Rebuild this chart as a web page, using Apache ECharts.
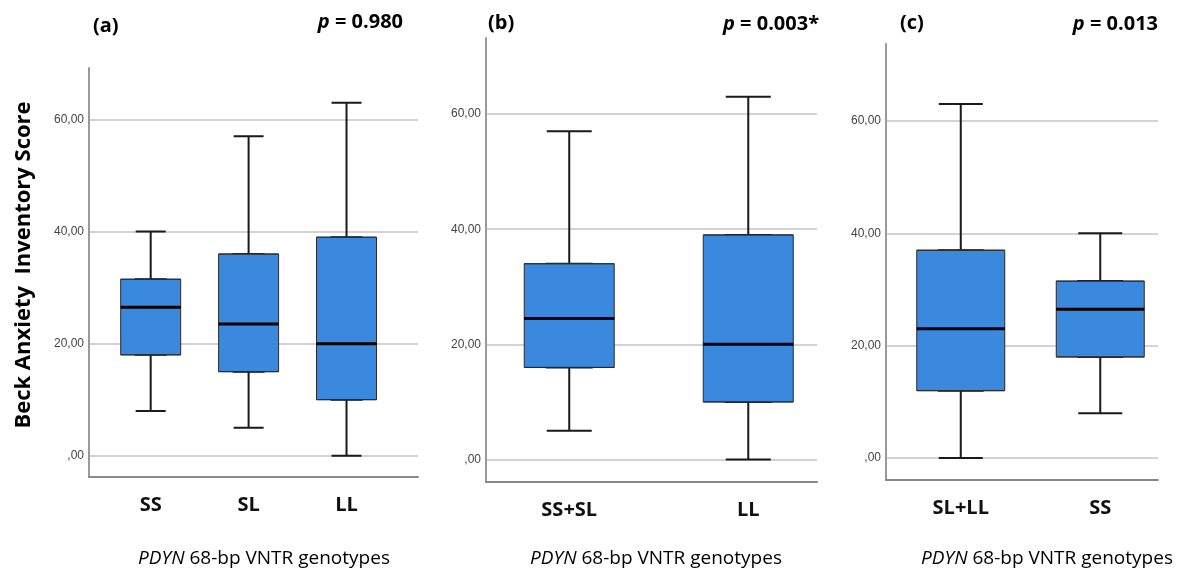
<!DOCTYPE html>
<html>
<head>
<meta charset="utf-8">
<script src="https://cdn.jsdelivr.net/npm/echarts@6/dist/echarts.min.js"></script>
<style>
html, body { margin: 0; background: #fff; }
#chart { width: 1178px; height: 573px; }
</style>
</head>
<body>
<div id="chart"></div>
<script>
// box values: [min, Q1, median, Q3, max]
var catsA = ['SS', 'SL', 'LL'];
var boxA = [[8, 18, 26.5, 31.5, 40], [5, 15, 23.5, 36, 57], [0, 10, 20, 39, 63]];
var catsB = ['SS+SL', 'LL'];
var boxB = [[5, 16, 24.5, 34, 57], [0, 10, 20, 39, 63]];
var catsC = ['SL+LL', 'SS'];
var boxC = [[0, 12, 23, 37, 63], [8, 18, 26.5, 31.5, 40]];
var yTicks = [0, 20, 40, 60];
var panelTags = ['(a)', '(b)', '(c)'];
var pValues = ['0.980', '0.003*', '0.013'];
var yTitle = 'Beck Anxiety  Inventory Score';

var boxColor = '#3a89de';

// per panel layout: grid in px, axis extents, box width
var panels = [
	{ cats: catsA, box: boxA, grid: { left: 89, right: 760, top: 68, bottom: 96 }, x: [-0.63, 2.73], y: [-3.8, 69.2], w: 60,
	  tag: [93, 26], p: [403, 22, 'right'], xt: [264, 559] },
	{ cats: catsB, box: boxB, grid: { left: 486, right: 361, top: 38, bottom: 91 }, x: [-0.465, 1.384], y: [-3.9, 73.2], w: 90,
	  tag: [488, 23], p: [723, 24, 'left'], xt: [656, 559] },
	{ cats: catsC, box: boxC, grid: { left: 886, right: 20, top: 44, bottom: 93 }, x: [-0.536, 1.414], y: [-3.9, 73.7], w: 88,
	  tag: [900, 23], p: [1158, 24, 'right'], xt: [1047, 559] }
];

function textEl(x, y, text, align, size, weight, rich, rotation) {
	return {
		type: 'text',
		x: x,
		y: y,
		rotation: rotation || 0,
		silent: true,
		style: {
			text: text,
			fontSize: size,
			fontWeight: weight,
			fontFamily: 'Open Sans',
			fill: '#000',
			align: align,
			verticalAlign: 'middle',
			textAlign: align,
			textVerticalAlign: 'middle',
			rich: rich || {}
		}
	};
}

var grids = [], xAxes = [], yAxes = [], series = [], graphics = [];

panels.forEach(function (pn, p) {
	grids.push(pn.grid);
	var idx = pn.cats.map(function (c, i) { return i; });
	xAxes.push({
		type: 'value',
		gridIndex: p,
		min: pn.x[0],
		max: pn.x[1],
		axisLine: { show: true, onZero: false, lineStyle: { color: '#8a8a8a', width: 2 } },
		axisTick: { show: false },
		splitLine: { show: false },
		axisLabel: {
			customValues: idx,
			margin: 18,
			fontFamily: 'Open Sans',
			fontWeight: 'bold',
			fontSize: 20,
			color: '#111',
			formatter: (function (cats) { return function (v) { return cats[Math.round(v)]; }; })(pn.cats)
		}
	});
	// hidden twin so the wide box is laid out apart from the whisker series
	xAxes.push({ type: 'value', gridIndex: p, min: pn.x[0], max: pn.x[1], show: false });
	yAxes.push({
		type: 'value',
		gridIndex: p,
		min: pn.y[0],
		max: pn.y[1],
		axisLine: { show: true, onZero: false, lineStyle: { color: '#9a9a9a', width: 2 } },
		axisTick: { show: false, customValues: yTicks },
		axisLabel: {
			customValues: yTicks,
			margin: 5,
			fontFamily: 'Liberation Sans',
			fontSize: 12,
			color: '#444',
			formatter: function (v) { return v === 0 ? ',00' : v + ',00'; }
		},
		splitLine: { show: true, lineStyle: { color: '#c4c4c4', width: 1.5 } }
	});

	// whiskers with half-width caps
	series.push({
		type: 'boxplot',
		xAxisIndex: 2 * p,
		yAxisIndex: p,
		silent: true,
		boxWidth: [pn.w / 2, pn.w / 2],
		itemStyle: { color: boxColor, borderColor: '#1a1a1a', borderWidth: 2 },
		data: pn.box.map(function (b, i) { return [i].concat(b); })
	});
	// box body
	series.push({
		type: 'boxplot',
		xAxisIndex: 2 * p + 1,
		yAxisIndex: p,
		silent: true,
		boxWidth: [pn.w, pn.w],
		itemStyle: { color: boxColor, borderColor: '#2a2a2a', borderWidth: 1 },
		data: pn.box.map(function (b, i) { return [i, b[1], b[1], b[2], b[3], b[3]]; })
	});
	// thick median line
	series.push({
		type: 'scatter',
		xAxisIndex: 2 * p,
		yAxisIndex: p,
		silent: true,
		symbol: 'rect',
		symbolSize: [pn.w, 3],
		itemStyle: { color: '#000', opacity: 1 },
		data: pn.box.map(function (b, i) { return [i, b[2]]; })
	});

	graphics.push(textEl(pn.tag[0], pn.tag[1], panelTags[p], 'left', 20, 'bold'));
	graphics.push(textEl(pn.p[0], pn.p[1], '{i|p} = ' + pValues[p], pn.p[2], 20, 'bold',
		{ i: { fontStyle: 'italic', fontWeight: 'bold', fontSize: 20, fontFamily: 'Open Sans' } }));
	graphics.push(textEl(pn.xt[0], pn.xt[1], '{i|PDYN} 68-bp VNTR genotypes', 'center', 19, 'normal',
		{ i: { fontStyle: 'italic', fontSize: 19, fontFamily: 'Open Sans' } }));
});

graphics.push(textEl(24, 265, yTitle, 'center', 22, 'bold', null, Math.PI / 2));

var myChart = echarts.init(document.getElementById('chart'));
myChart.setOption({
	animation: false,
	backgroundColor: '#fff',
	grid: grids,
	xAxis: xAxes,
	yAxis: yAxes,
	series: series,
	graphic: graphics
});
</script>
</body>
</html>
